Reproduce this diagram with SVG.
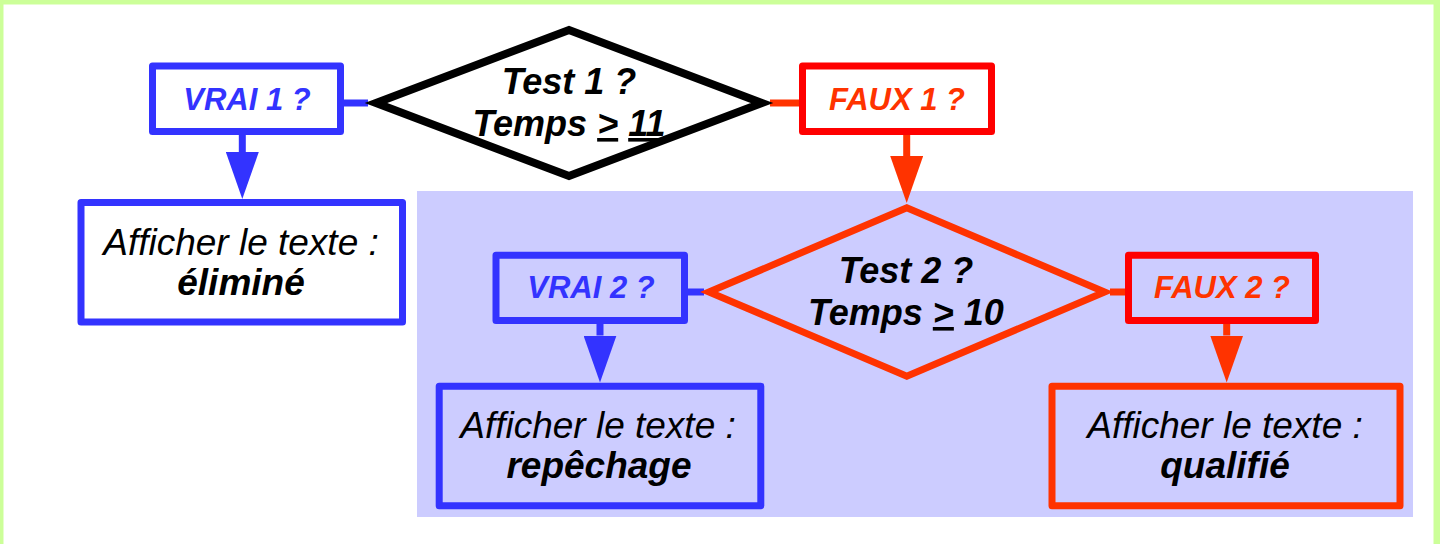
<svg xmlns="http://www.w3.org/2000/svg" width="1440" height="544" viewBox="0 0 1440 544">
<defs>
<style>
.box{stroke-width:7;stroke-linejoin:round}
.dia{stroke-width:7;stroke-linejoin:miter;stroke-miterlimit:10}
.lbl{font-family:"Liberation Sans",Arial,sans-serif;font-weight:bold;font-style:italic;font-size:31px;text-anchor:middle}
.test{font-family:"Liberation Sans",Arial,sans-serif;font-weight:bold;font-style:italic;font-size:36px;text-anchor:middle;fill:#000}
.act{font-family:"Liberation Sans",Arial,sans-serif;font-style:italic;font-size:37px;text-anchor:middle;fill:#000}
.actb{font-weight:bold}
.c{stroke-width:7;fill:none}
.blue{stroke:#3333ff}
.org{stroke:#ff3300}
</style>
<marker id="ahBlue" markerUnits="userSpaceOnUse" markerWidth="47" markerHeight="33" viewBox="0 0 47 33" refX="0" refY="16.5" orient="auto"><path d="M0,0 L47,16.5 L0,33 Z" fill="#3333ff"/></marker>
<marker id="ahOrg" markerUnits="userSpaceOnUse" markerWidth="47" markerHeight="33" viewBox="0 0 47 33" refX="0" refY="16.5" orient="auto"><path d="M0,0 L47,16.5 L0,33 Z" fill="#ff3300"/></marker>
</defs>
<rect x="0" y="0" width="1440" height="544" fill="#ccff99"/>
<rect x="3.5" y="4.5" width="1430" height="540" fill="#ffffff"/>
<rect x="417" y="191" width="996" height="326" fill="#ccccff"/>

<g id="connectors">
<line class="c blue" x1="344" y1="103" x2="368" y2="103"/>
<line class="c org" x1="770" y1="103" x2="799" y2="103"/>
<line class="c blue" x1="688" y1="292" x2="704" y2="292"/>
<line class="c org" x1="1110" y1="292" x2="1125" y2="292"/>
<line class="c blue" x1="242.3" y1="134" x2="242.3" y2="152" marker-end="url(#ahBlue)"/>
<line class="c org" x1="906.7" y1="134" x2="906.7" y2="156" marker-end="url(#ahOrg)"/>
<line class="c blue" x1="600" y1="323" x2="600" y2="335.5" marker-end="url(#ahBlue)"/>
<line class="c org" x1="1226.7" y1="323" x2="1226.7" y2="335.5" marker-end="url(#ahOrg)"/>
</g>

<g id="test1">
<polygon class="dia" points="376,103 569,30 762,103 569,176" fill="#ffffff" stroke="#000000" style="stroke-width:8"/>
<text class="test" x="569" y="94">Test 1 ?</text>
<text class="test" x="569" y="136">Temps <tspan text-decoration="underline">&gt;</tspan> <tspan text-decoration="underline">11</tspan></text>
</g>

<g id="vrai1">
<rect class="box" x="152.5" y="66" width="188" height="65.5" fill="#ffffff" stroke="#3333ff"/>
<text class="lbl" x="247" y="110" fill="#3333ff">VRAI 1 ?</text>
</g>

<g id="faux1">
<rect class="box" x="802.5" y="66" width="189" height="65.5" fill="#ffffff" stroke="#ff0000"/>
<text class="lbl" x="897" y="110" fill="#ff3300">FAUX 1 ?</text>
</g>

<g id="elimine">
<rect class="box" x="81" y="202.5" width="321.5" height="119.5" fill="#ffffff" stroke="#3333ff"/>
<text class="act" x="241" y="255">Afficher le texte :</text>
<text class="act actb" x="241" y="295">éliminé</text>
</g>

<g id="test2">
<polygon class="dia" points="709,292 906.8,207.8 1104.6,292 906.8,376.2" fill="none" stroke="#ff3300"/>
<text class="test" x="906" y="283">Test 2 ?</text>
<text class="test" x="906" y="325">Temps <tspan text-decoration="underline">&gt;</tspan> 10</text>
</g>

<g id="vrai2">
<rect class="box" x="496" y="255.3" width="188.5" height="65.2" fill="none" stroke="#3333ff"/>
<text class="lbl" x="591" y="298" fill="#3333ff">VRAI 2 ?</text>
</g>

<g id="faux2">
<rect class="box" x="1128.5" y="255.3" width="187" height="65.2" fill="none" stroke="#ff0000"/>
<text class="lbl" x="1222" y="298" fill="#ff3300">FAUX 2 ?</text>
</g>

<g id="repechage">
<rect class="box" x="439.2" y="386.2" width="321.6" height="119.6" fill="none" stroke="#3333ff"/>
<text class="act" x="598" y="437.7">Afficher le texte :</text>
<text class="act actb" x="599" y="478">repêchage</text>
</g>

<g id="qualifie">
<rect class="box" x="1052" y="386.2" width="348" height="119.6" fill="none" stroke="#ff3300"/>
<text class="act" x="1225" y="437.7">Afficher le texte :</text>
<text class="act actb" x="1225" y="478">qualifié</text>
</g>
</svg>
